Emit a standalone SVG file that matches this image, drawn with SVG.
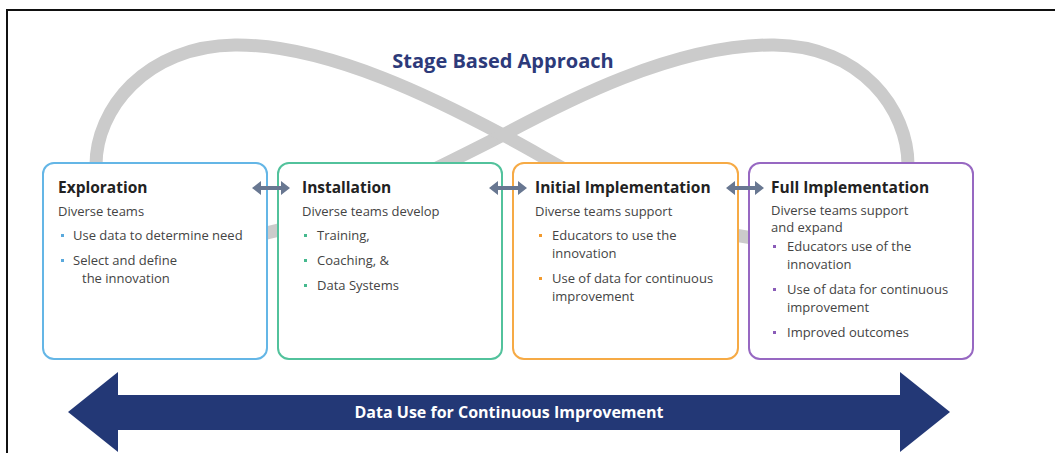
<svg xmlns="http://www.w3.org/2000/svg" width="1055" height="453" viewBox="0 0 1055 453">
<style>
.box{fill:#fff;stroke-width:2}
.t{font-family:"Open Sans","Liberation Sans",sans-serif;font-weight:bold;font-size:15.5px;fill:#222}
.b{font-family:"Open Sans","Liberation Sans",sans-serif;font-size:13px;fill:#444}
.lnk{fill:#687791}
</style>
<rect x="0" y="0" width="1055" height="453" fill="#fff"/>
<path d="M6,10 H1055 M7,10 V453" fill="none" stroke="#111" stroke-width="2"/>
<g id="infinity" fill="none" stroke="#cbcbcb" stroke-width="13">
<path d="M503,135 C445,104 330,44 235,45 C145,46 96,110 96,165 C96,215 140,243 200,242 C300,240 420,177 503,135 Z"/>
<path d="M503,135 C561,164 664,240 804,242 C864,243 908,215 908,165 C908,110 862,46 774,45 C674,44 561,104 503,135 Z"/>
</g>
<text x="503" y="68" text-anchor="middle" font-family="'Open Sans','Liberation Sans',sans-serif" font-weight="bold" font-size="20" fill="#2d3a7a">Stage Based Approach</text>
<g id="exploration">
<rect class="box" x="43" y="163" width="224" height="196" rx="11" stroke="#64b6e6"/>
<text class="t" x="58" y="193">Exploration</text>
<text class="b" x="58" y="216">Diverse teams</text>
<g fill="#5aa9dc"><rect x="61" y="234" width="3" height="3"/><rect x="61" y="259" width="3" height="3"/></g>
<text class="b" x="73" y="240">Use data to determine need</text>
<text class="b" x="73" y="265">Select and define</text>
<text class="b" x="82" y="283">the innovation</text>
</g>
<g id="installation">
<rect class="box" x="278" y="163" width="224" height="196" rx="11" stroke="#52c29c"/>
<text class="t" x="302" y="193">Installation</text>
<text class="b" x="302" y="216">Diverse teams develop</text>
<g fill="#45b98e"><rect x="304" y="234" width="3" height="3"/><rect x="304" y="259" width="3" height="3"/><rect x="304" y="284" width="3" height="3"/></g>
<text class="b" x="317" y="240">Training,</text>
<text class="b" x="317" y="265">Coaching, &amp;</text>
<text class="b" x="317" y="290">Data Systems</text>
</g>
<g id="initial-implementation">
<rect class="box" x="513" y="163" width="225" height="196" rx="11" stroke="#f6aa45"/>
<text class="t" x="535" y="193">Initial Implementation</text>
<text class="b" x="535" y="216">Diverse teams support</text>
<g fill="#f29a2e"><rect x="539" y="234" width="3" height="3"/><rect x="539" y="277" width="3" height="3"/></g>
<text class="b" x="552" y="240">Educators to use the</text>
<text class="b" x="552" y="258">innovation</text>
<text class="b" x="552" y="283">Use of data for continuous</text>
<text class="b" x="552" y="301">improvement</text>
</g>
<g id="full-implementation">
<rect class="box" x="749" y="163" width="224" height="196" rx="11" stroke="#9768c2"/>
<text class="t" x="771" y="193">Full Implementation</text>
<text class="b" x="771" y="215" font-size="12.5">Diverse teams support</text>
<text class="b" x="771" y="232" font-size="12.5">and expand</text>
<g fill="#8a5cb8"><rect x="773" y="245" width="3" height="3"/><rect x="773" y="288" width="3" height="3"/><rect x="773" y="331" width="3" height="3"/></g>
<text class="b" x="787" y="251">Educators use of the</text>
<text class="b" x="787" y="269">innovation</text>
<text class="b" x="787" y="294">Use of data for continuous</text>
<text class="b" x="787" y="312">improvement</text>
<text class="b" x="787" y="337">Improved outcomes</text>
</g>
<g id="connectors">
<polygon class="lnk" points="252,188 261,181 261,186 281,186 281,181 290,188 281,195 281,190 261,190 261,195"/>
<polygon class="lnk" points="489,188 498,181 498,186 518,186 518,181 527,188 518,195 518,190 498,190 498,195"/>
<polygon class="lnk" points="726,188 735,181 735,186 755,186 755,181 764,188 755,195 755,190 735,190 735,195"/>
</g>
<g id="data-use-arrow">
<polygon fill="#233876" points="68,412 118,372 118,395 900,395 900,372 950,412 900,452 900,430 118,430 118,452"/>
<text x="509" y="418" text-anchor="middle" font-family="'Open Sans','Liberation Sans',sans-serif" font-weight="bold" font-size="16" fill="#fff">Data Use for Continuous Improvement</text>
</g>
</svg>
